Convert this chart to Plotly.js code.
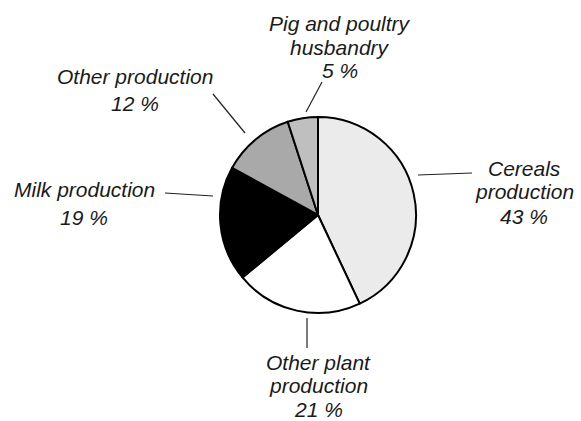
<!DOCTYPE html>
<html>
<head>
<meta charset="utf-8">
<script src="https://cdn.plot.ly/plotly-3.0.1.min.js"></script>
<style>html,body{margin:0;padding:0;background:#fff;}#chart{width:581px;height:421px;}</style>
</head>
<body>
<div id="chart"></div>
<script>
// Data
const categories = ["Cereals production", "Other plant production", "Milk production", "Other production", "Pig and poultry husbandry"];
const shares = [43, 21, 19, 12, 5];
const labelLines = [
  ["Cereals", "production"],
  ["Other plant", "production"],
  ["Milk production"],
  ["Other production"],
  ["Pig and poultry", "husbandry"]
];
const sliceColors = ["#ebebeb", "#ffffff", "#000000", "#a9a9a9", "#bfbfbf"];

// Layout helpers (pixel -> paper)
const W = 581, H = 421;
const px = x => x / W;
const py = y => 1 - y / H;

// label placement: centre x, first line centre y, line step (pixels)
const labelPos = [[524, 168, 24], [318.5, 362, 23.5], [84, 190, 27], [134.5, 77, 26], [340, 23.5, 23.5]];
const leaders = [
  [[418, 175], [472, 173]],
  [[307, 318], [307, 348]],
  [[165, 193], [213, 196]],
  [[213, 94], [245, 133]],
  [[322, 82], [306, 112]]
];

const annotations = [];
categories.forEach((c, i) => {
  const lines = labelLines[i].concat([shares[i] + ' %']);
  lines.forEach((t, j) => {
    annotations.push({
      xref: 'paper', yref: 'paper',
      x: px(labelPos[i][0]), y: py(labelPos[i][1] + j * labelPos[i][2]),
      xanchor: 'center', yanchor: 'middle',
      showarrow: false,
      text: t,
      font: {family: 'Liberation Sans, Arial, sans-serif', size: 21, color: '#1a1a1a', style: 'italic'}
    });
  });
});

const shapes = leaders.map(l => ({
  type: 'line', xref: 'paper', yref: 'paper',
  x0: px(l[0][0]), y0: py(l[0][1]), x1: px(l[1][0]), y1: py(l[1][1]),
  line: {color: '#222', width: 1.2}
}));

const cx = 318, cy = 215, r = 98;

Plotly.newPlot('chart', [{
  type: 'pie',
  labels: categories,
  values: shares,
  sort: false,
  direction: 'clockwise',
  rotation: 0,
  textinfo: 'none',
  hoverinfo: 'skip',
  marker: {colors: sliceColors, line: {color: '#000', width: 2}},
  domain: {x: [px(cx - r), px(cx + r)], y: [py(cy + r), py(cy - r)]}
}], {
  width: W, height: H,
  margin: {l: 0, r: 0, t: 0, b: 0},
  showlegend: false,
  paper_bgcolor: '#fff',
  annotations: annotations,
  shapes: shapes
}, {staticPlot: true});
</script>
</body>
</html>
